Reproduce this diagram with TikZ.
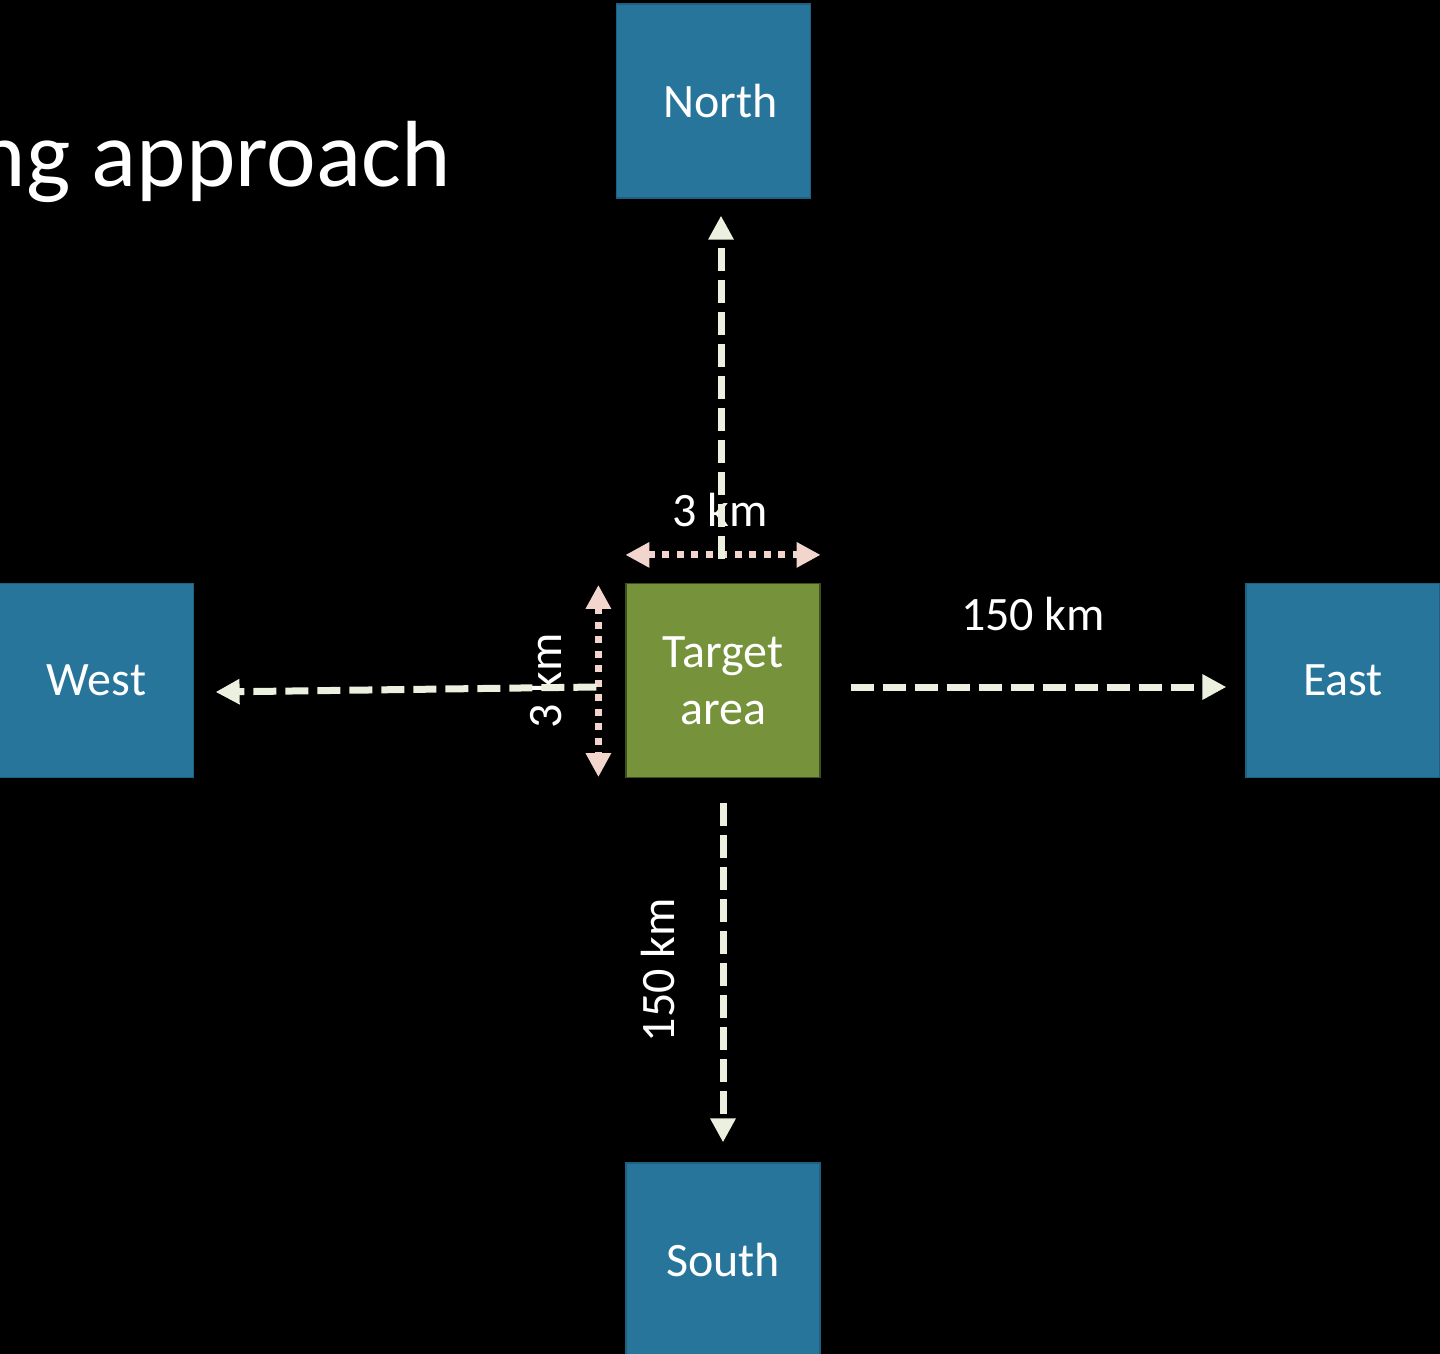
\documentclass[tikz,border=0pt]{standalone}
\usepackage{fontspec}
\setmainfont{Carlito}
\usetikzlibrary{arrows.meta}
\definecolor{boxblue}{HTML}{28759B}
\definecolor{boxblueline}{HTML}{1F5F80}
\definecolor{targetgreen}{HTML}{76923A}
\definecolor{targetline}{HTML}{3D4F1E}
\definecolor{dashcol}{HTML}{EBF1DE}
\definecolor{pinkcol}{HTML}{F2D6CD}
\begin{document}
\begin{tikzpicture}[x=0.5pt,y=-0.5pt,
  box/.style={draw=boxblueline, line width=0.6pt, fill=boxblue, minimum width=97pt, minimum height=97pt,
    inner sep=0pt, text=white, font=\fontsize{24}{28.5}\selectfont},
  targetbox/.style={box, draw=targetline, fill=targetgreen, align=center},
  lbl/.style={text=white, inner sep=0pt, font=\fontsize{24}{28.5}\selectfont},
  greendash/.style={draw=dashcol, line width=3.5pt, dash pattern=on 11.5pt off 4.5pt,
    -{Triangle[length=12pt,width=12pt]}},
  pinkdot/.style={draw=pinkcol, line width=3.5pt, dash pattern=on 3.5pt off 3.75pt,
    {Triangle[length=12pt,width=12pt]}-{Triangle[length=12pt,width=12pt]}}
]
\fill[black] (0,0) rectangle (1440,1354);
\useasboundingbox (0,0) rectangle (1440,1354);

\node[anchor=base east, text=white, inner sep=0pt, font=\fontsize{47}{52}\selectfont] (title) at (451,186) {ng approach};

\node[box] (north) at (713.5,101) {\hspace*{7pt}North};
\node[box] (west) at (96.5,680.5) {West};
\node[box] (east) at (1343,680.5) {East};
\node[box] (south) at (723,1260) {South};
\node[targetbox] (target) at (723,680.5) {Target\\area};

\node[lbl] (lbltop) at (720,510) {3 km};
\node[lbl] (lbleast) at (1033,614) {150 km};
\node[lbl, rotate=90] (lblwest) at (545,681) {3 km};
\node[lbl, rotate=90] (lblsouth) at (658,970) {150 km};

\draw[pinkdot] ([yshift=14pt]target.north west) -- ([yshift=14pt]target.north east);
\draw[pinkdot] ([xshift=-13.5pt,yshift=-1pt]target.north west) -- ([xshift=-13.5pt,yshift=0.5pt]target.south west);

\draw[greendash] ([xshift=-1pt,yshift=12pt]target.north) -- ([xshift=3.75pt,yshift=-8.5pt]north.south);
\draw[greendash] ([xshift=15pt,yshift=-3.25pt]target.east) -- ([xshift=-9.5pt,yshift=-3.25pt]east.west);
\draw[greendash] ([yshift=-12.5pt]target.south) -- ([yshift=10pt]south.north);
\draw[greendash] ([xshift=-14.5pt,yshift=-3.25pt]target.west) -- ([xshift=10.75pt,yshift=-5.75pt]west.east);
\end{tikzpicture}
\end{document}
